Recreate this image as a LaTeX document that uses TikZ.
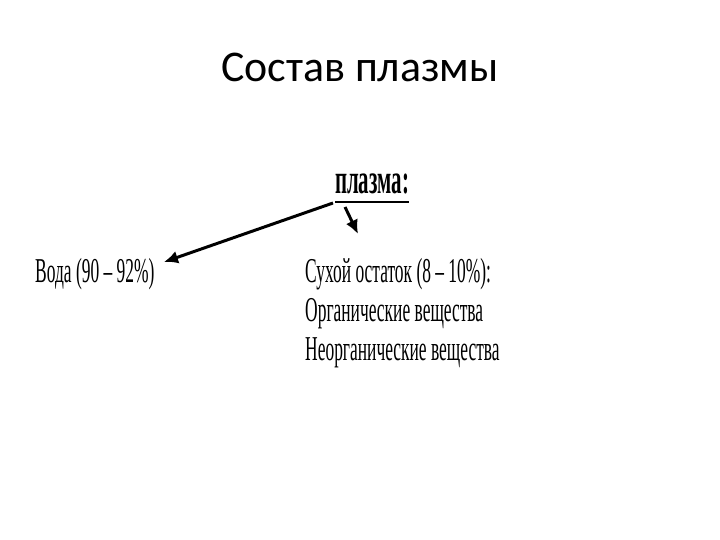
\documentclass[tikz,border=0pt]{standalone}
\usepackage{fontspec}
\setmainfont{Carlito}
\newfontfamily\condfont[FakeStretch=0.5]{Liberation Serif}
\usepackage{tikz}
\usetikzlibrary{arrows.meta}

\begin{document}
\begin{tikzpicture}[x=1bp, y=-1bp]
            \useasboundingbox (0,0) rectangle (720,540);
            \node[anchor=base] (title) at (360,82) {\fontsize{44}{52}\selectfont Состав плазмы};

            \begin{scope}[every node/.style={inner sep=0pt, anchor=base west, font=\condfont\fontsize{35}{42}\selectfont}]
                \node (plasma) at (335,194) {\fontsize{42}{50}\selectfont\bfseries плазма:};
                \node (water) at (35,283) {Вода (90 – 92\%)};
                \node (dry) at (305,283) {Сухой остаток (8 – 10\%):};
                \node (org) at (305,321) {Органические вещества};
                \node (inorg) at (305,360) {Неорганические вещества};
            \end{scope}

            \coordinate (a) at (333,203);
            \coordinate (b) at (345,207);
            \coordinate (c) at (358,234);
            \coordinate (w) at (164,262);

            \begin{scope}[every edge/.style={draw=black, line width=3pt}]
                \path [-] ([yshift=-8bp]plasma.base west) edge ([yshift=-8bp]plasma.base east);
                \path [-{Latex[length=14bp,width=13bp]}] (a) edge (w);
                \path [-{Latex[length=14bp,width=13bp]}] (b) edge (c);
            \end{scope}
        \end{tikzpicture}
\end{document}
